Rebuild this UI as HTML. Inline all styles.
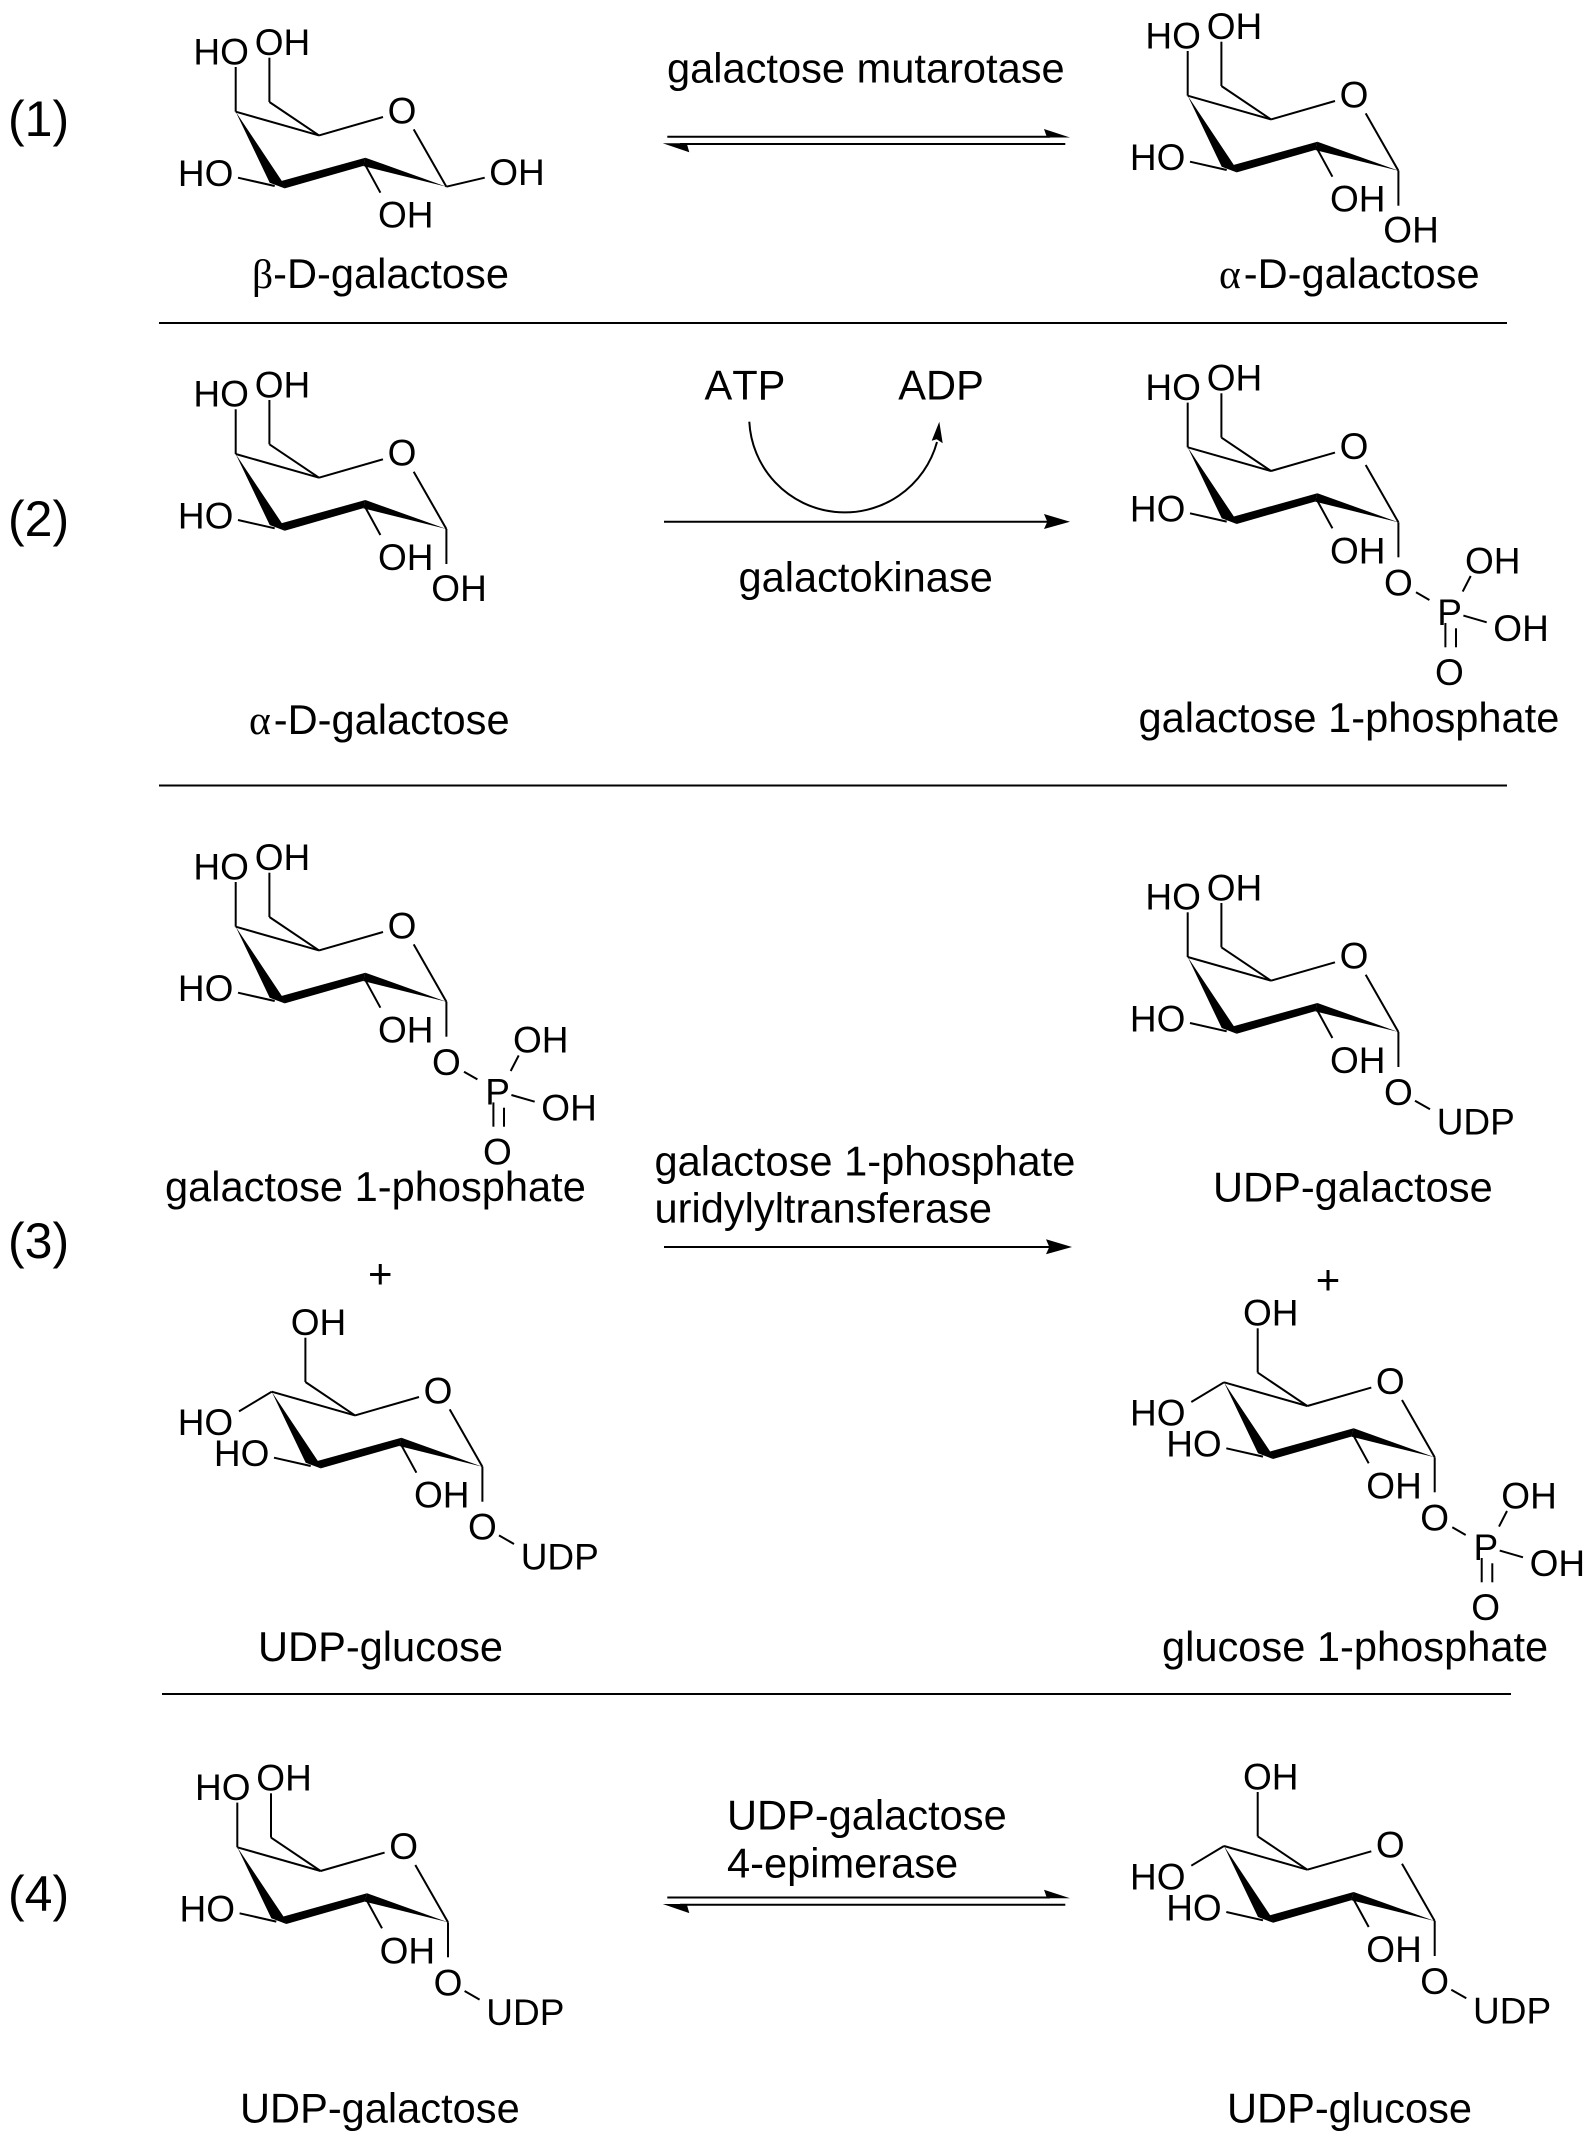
<!DOCTYPE html>
<html><head><meta charset="utf-8"><title>Leloir pathway</title>
<style>
html,body{margin:0;padding:0;background:#fff}
svg{display:block}
text{font-family:"Liberation Sans",Arial,sans-serif;fill:#000}
.a{font-size:37px}
.b{font-size:41.6px}
.n{font-size:50px}
.p{font-size:42px;text-anchor:middle}
.m{text-anchor:middle}
.g{font-family:"Liberation Serif",serif}
.w{letter-spacing:3px}
.k{font-kerning:none}
line,path.s{stroke:#000;stroke-width:2;fill:none}
</style></head><body>
<svg width="1595" height="2144" viewBox="0 0 1595 2144" xmlns="http://www.w3.org/2000/svg">
<defs>
<g id="ring">
<line x1="0" y1="0" x2="83.3" y2="23.7"/>
<line x1="83.3" y1="23.7" x2="147.3" y2="5.3"/>
<line x1="178" y1="17.7" x2="210.7" y2="75"/>
<line x1="33.7" y1="-9.7" x2="83.3" y2="23.7"/>
<line x1="33.7" y1="-9.7" x2="33.7" y2="-54"/>
<line x1="2.3" y1="66" x2="39" y2="74.3"/>
<line x1="128.3" y1="51" x2="144.7" y2="81"/>
<polygon points="0,0 46,69 49,76.7 34,71"/>
<polygon points="45.7,69.3 129.7,46 127.3,54.3 49,76.7"/>
<polygon points="129.7,46 210.7,75 127.3,54.3"/>
</g>
<g id="galb"><use href="#ring"/><line x1="0" y1="-44.7" x2="0" y2="0"/></g>
<g id="glcb"><use href="#ring"/><line x1="0" y1="0" x2="-32.7" y2="19.7"/></g>
<g id="down"><line x1="210.7" y1="75" x2="210.7" y2="110"/></g>
<g id="pb">
<line x1="228.3" y1="145" x2="241.7" y2="152.7"/>
<line x1="275" y1="144.3" x2="283" y2="128.7"/>
<line x1="275.7" y1="168.3" x2="299" y2="175"/>
<line x1="257.7" y1="175.7" x2="257.7" y2="200"/>
<line x1="268.3" y1="181" x2="268.3" y2="200"/>
</g>
<g id="ub"><line x1="227.3" y1="143.7" x2="242.3" y2="152.3"/></g>
</defs>

<!-- separators -->
<line x1="159" y1="323" x2="1507" y2="323"/>
<line x1="159" y1="785.5" x2="1507" y2="785.5"/>
<line x1="162" y1="1694" x2="1511" y2="1694"/>

<!-- row numbers -->
<text class="n" x="8" y="136">(1)</text>
<text class="n" x="8" y="536">(2)</text>
<text class="n" x="8" y="1258">(3)</text>
<text class="n" x="8" y="1911">(4)</text>

<!-- Row 1 left -->
<g transform="translate(235.7,111.7)">
<use href="#galb"/>
<line x1="210.7" y1="75" x2="249" y2="66"/>
<text class="a" x="-42.3" y="-47.3">HO</text><text class="a" x="19" y="-56.7">OH</text>
<text class="a m" x="166.3" y="11.7">O</text>
<text class="a" x="-57.8" y="74.3">HO</text><text class="a" x="142.3" y="116">OH</text>
<text class="a" x="253.5" y="73.3">OH</text>
</g>
<text class="b" x="252" y="288"><tspan class="g">β</tspan>-D-galactose</text>

<!-- Row 1 right -->
<g transform="translate(1187.7,95.7)">
<use href="#galb"/><use href="#down"/>
<text class="a" x="-42.3" y="-47.3">HO</text><text class="a" x="19" y="-56.7">OH</text>
<text class="a m" x="166.3" y="11.7">O</text>
<text class="a" x="-57.8" y="74.3">HO</text><text class="a" x="142.3" y="116">OH</text>
<text class="a" x="195.6" y="147">OH</text>
</g>
<text class="b" x="1219" y="288"><tspan class="g w">α</tspan>-D-galactose</text>

<!-- Row 1 arrow -->
<text class="b" x="667" y="82.7">galactose mutarotase</text>
<line x1="667.3" y1="136.7" x2="1050" y2="136.7"/>
<polygon points="1044,129 1070,137.5 1047,137.5"/>
<line x1="1065.3" y1="144" x2="680" y2="144"/>
<polygon points="662.7,143.2 689.3,152.3 686.7,143.2"/>

<!-- Row 2 left -->
<g transform="translate(235.7,454)">
<use href="#galb"/><use href="#down"/>
<text class="a" x="-42.3" y="-47.3">HO</text><text class="a" x="19" y="-56.7">OH</text>
<text class="a m" x="166.3" y="11.7">O</text>
<text class="a" x="-57.8" y="74.3">HO</text><text class="a" x="142.3" y="116">OH</text>
<text class="a" x="195.6" y="147">OH</text>
</g>
<text class="b" x="249" y="734"><tspan class="g w">α</tspan>-D-galactose</text>

<!-- Row 2 middle -->
<text class="b k" x="704.5" y="399.3">ATP</text>
<text class="b" x="898.3" y="399.3">ADP</text>
<path class="s" d="M749.3 421.7A95.6 95.6 0 0 0 937 442"/>
<polygon points="939.3,421.7 931.7,440.7 936.7,439.3 942.7,443.3"/>
<line x1="664" y1="521.7" x2="1050" y2="521.7"/>
<polygon points="1044,514 1070,521.7 1044,529 1047.3,521.7"/>
<text class="b" x="738.5" y="591.7">galactokinase</text>

<!-- Row 2 right -->
<g transform="translate(1187.7,447.3)">
<use href="#galb"/><use href="#down"/><use href="#pb"/>
<text class="a" x="-42.3" y="-47.3">HO</text><text class="a" x="19" y="-56.7">OH</text>
<text class="a m" x="166.3" y="11.7">O</text>
<text class="a" x="-57.8" y="74.3">HO</text><text class="a" x="142.3" y="116">OH</text>
<text class="a m" x="210.7" y="148.3">O</text>
<text class="a" x="249.5" y="177.7">P</text>
<text class="a" x="277.3" y="126">OH</text>
<text class="a" x="305.6" y="193.7">OH</text>
<text class="a m" x="261.7" y="237.7">O</text>
</g>
<text class="b" x="1138.5" y="732">galactose 1-phosphate</text>

<!-- Row 3 left top -->
<g transform="translate(235.7,926.7)">
<use href="#galb"/><use href="#down"/><use href="#pb"/>
<text class="a" x="-42.3" y="-47.3">HO</text><text class="a" x="19" y="-56.7">OH</text>
<text class="a m" x="166.3" y="11.7">O</text>
<text class="a" x="-57.8" y="74.3">HO</text><text class="a" x="142.3" y="116">OH</text>
<text class="a m" x="210.7" y="148.3">O</text>
<text class="a" x="249.5" y="177.7">P</text>
<text class="a" x="277.3" y="126">OH</text>
<text class="a" x="305.6" y="193.7">OH</text>
<text class="a m" x="261.7" y="237.7">O</text>
</g>
<text class="b" x="165" y="1201">galactose 1-phosphate</text>
<text class="p" x="380.3" y="1288">+</text>

<!-- Row 3 left bottom -->
<g transform="translate(271.7,1391.7)">
<use href="#glcb"/><use href="#down"/><use href="#ub"/>
<text class="a" x="-94" y="43.3">HO</text><text class="a" x="19" y="-56.7">OH</text>
<text class="a m" x="166.3" y="11.7">O</text>
<text class="a" x="-57.8" y="74.3">HO</text><text class="a" x="142.3" y="116">OH</text>
<text class="a m" x="210.7" y="148">O</text>
<text class="a" x="249" y="178">UDP</text>
</g>
<text class="b" x="258" y="1661">UDP-glucose</text>

<!-- Row 3 middle -->
<text class="b" x="654.5" y="1175.5">galactose 1-phosphate</text>
<text class="b" x="654.5" y="1222.5">uridylyltransferase</text>
<line x1="664" y1="1247" x2="1052" y2="1247"/>
<polygon points="1046,1239.3 1072,1247 1046,1254.3 1049.3,1247"/>

<!-- Row 3 right top -->
<g transform="translate(1187.7,957)">
<use href="#galb"/><use href="#down"/><use href="#ub"/>
<text class="a" x="-42.3" y="-47.3">HO</text><text class="a" x="19" y="-56.7">OH</text>
<text class="a m" x="166.3" y="11.7">O</text>
<text class="a" x="-57.8" y="74.3">HO</text><text class="a" x="142.3" y="116">OH</text>
<text class="a m" x="210.7" y="148">O</text>
<text class="a" x="249" y="177.5">UDP</text>
</g>
<text class="b" x="1213" y="1201.7">UDP-galactose</text>
<text class="p" x="1328" y="1294">+</text>

<!-- Row 3 right bottom -->
<g transform="translate(1224,1382.3)">
<use href="#glcb"/><use href="#down"/><use href="#pb"/>
<text class="a" x="-94" y="43.3">HO</text><text class="a" x="19" y="-56.7">OH</text>
<text class="a m" x="166.3" y="11.7">O</text>
<text class="a" x="-57.8" y="74.3">HO</text><text class="a" x="142.3" y="116">OH</text>
<text class="a m" x="210.7" y="148.3">O</text>
<text class="a" x="249.5" y="177.7">P</text>
<text class="a" x="277.3" y="126">OH</text>
<text class="a" x="305.6" y="193.7">OH</text>
<text class="a m" x="261.7" y="237.7">O</text>
</g>
<text class="b" x="1162" y="1661">glucose 1-phosphate</text>

<!-- Row 4 left -->
<g transform="translate(237.3,1847.3)">
<use href="#galb"/><use href="#down"/><use href="#ub"/>
<text class="a" x="-42.3" y="-47.3">HO</text><text class="a" x="19" y="-56.7">OH</text>
<text class="a m" x="166.3" y="11.7">O</text>
<text class="a" x="-57.8" y="74.3">HO</text><text class="a" x="142.3" y="116">OH</text>
<text class="a m" x="210.7" y="148">O</text>
<text class="a" x="249" y="177.5">UDP</text>
</g>
<text class="b" x="240" y="2122.7">UDP-galactose</text>

<!-- Row 4 middle -->
<text class="b" x="727" y="1829.5">UDP-galactose</text>
<text class="b" x="727" y="1877.5">4-epimerase</text>
<line x1="667.3" y1="1897.5" x2="1050" y2="1897.5"/>
<polygon points="1044,1889.8 1070,1898.3 1047,1898.3"/>
<line x1="1065.3" y1="1904.8" x2="680" y2="1904.8"/>
<polygon points="662.7,1904 689.3,1913.1 686.7,1904"/>

<!-- Row 4 right -->
<g transform="translate(1224,1846)">
<use href="#glcb"/><use href="#down"/><use href="#ub"/>
<text class="a" x="-94" y="43.3">HO</text><text class="a" x="19" y="-56.7">OH</text>
<text class="a m" x="166.3" y="11.7">O</text>
<text class="a" x="-57.8" y="74.3">HO</text><text class="a" x="142.3" y="116">OH</text>
<text class="a m" x="210.7" y="148">O</text>
<text class="a" x="249" y="177.5">UDP</text>
</g>
<text class="b" x="1227" y="2122.7">UDP-glucose</text>
</svg>
</body></html>
